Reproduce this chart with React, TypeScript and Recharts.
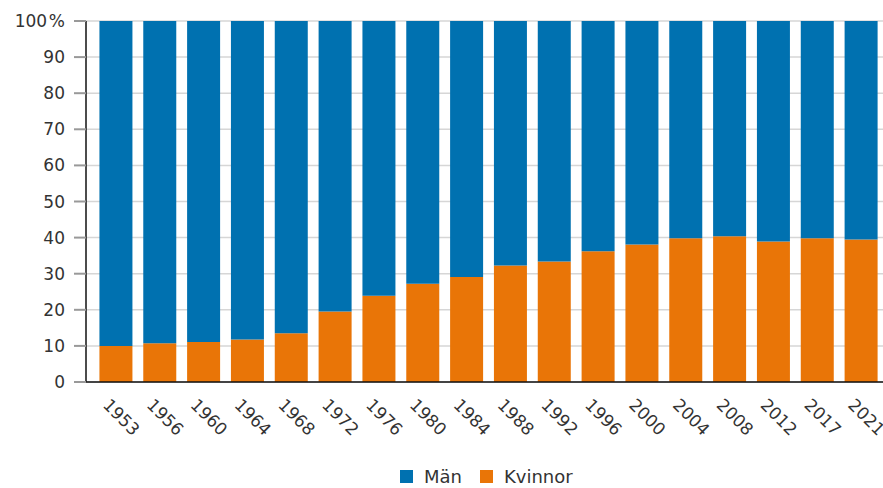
import { Bar, BarChart, CartesianGrid, Legend, XAxis, YAxis } from "recharts";

const years = [
  "1953", "1956", "1960", "1964", "1968", "1972", "1976", "1980", "1984",
  "1988", "1992", "1996", "2000", "2004", "2008", "2012", "2017", "2021",
];
const kvinnor = [
  10.0, 10.7, 11.1, 11.8, 13.5, 19.5, 23.9, 27.2, 29.1,
  32.3, 33.4, 36.2, 38.1, 39.8, 40.4, 38.9, 39.8, 39.5,
];
const man = [
  90.0, 89.3, 88.9, 88.2, 86.5, 80.5, 76.1, 72.8, 70.9,
  67.7, 66.6, 63.8, 61.9, 60.2, 59.6, 61.1, 60.2, 60.5,
];
const yTicks = [0, 10, 20, 30, 40, 50, 60, 70, 80, 90, 100];

const BLUE = "#0071b0";
const ORANGE = "#e97507";
const FONT = "'DejaVu Sans', Verdana, sans-serif";

const data = years.map((year, i) => ({ year, man: man[i], kvinnor: kvinnor[i] }));

function YearTick({ x, y, payload }: any) {
  const ax = x - 14;
  const ay = y + 24;
  return (
    <text
      x={ax}
      y={ay}
      transform={`rotate(45 ${ax} ${ay})`}
      textAnchor="start"
      fontSize={17}
      fontFamily={FONT}
      fill="#333"
    >
      {payload.value}
    </text>
  );
}

function PercentTick({ x, y, payload }: any) {
  return (
    <text
      x={x}
      y={y}
      dy="0.355em"
      textAnchor="end"
      fontSize={17}
      fontFamily={FONT}
      fill="#333"
    >
      {payload.value === 100 ? "100\u200A%" : payload.value}
    </text>
  );
}

function LegendBox() {
  const items = [
    { label: "Män", color: BLUE },
    { label: "Kvinnor", color: ORANGE },
  ];
  return (
    <div
      style={{
        height: 24,
        display: "flex",
        alignItems: "center",
        paddingLeft: 400,
        fontFamily: FONT,
        fontSize: 18,
        color: "#333",
      }}
    >
      {items.map((it) => (
        <span key={it.label} style={{ display: "flex", alignItems: "center", marginRight: 18 }}>
          <span style={{ width: 13, height: 13, background: it.color, marginRight: 11 }} />
          {it.label}
        </span>
      ))}
    </div>
  );
}

export default function App() {
  return (
    <div style={{ position: "absolute", left: 0, top: 0, width: 883, height: 488, background: "#fff" }}>
      <BarChart
        width={883}
        height={488}
        data={data}
        margin={{ top: 21, right: 0, bottom: 0, left: 0 }}
        barCategoryGap="12.4%"
      >
        <CartesianGrid vertical={false} stroke="#d6d6d6" strokeWidth={1.5} />
        <XAxis
          dataKey="year"
          height={82}
          interval={0}
          padding={{ left: 8, right: 0 }}
          tickSize={0}
          tickMargin={0}
          tickLine={false}
          axisLine={{ stroke: "#111", strokeWidth: 1.5 }}
          tick={<YearTick />}
        />
        <YAxis
          width={86}
          domain={[0, 100]}
          ticks={yTicks}
          interval={0}
          tickSize={12}
          tickMargin={9}
          tickLine={{ stroke: "#999", strokeWidth: 2 }}
          axisLine={{ stroke: "#111", strokeWidth: 1.5 }}
          tick={<PercentTick />}
        />
        <Legend verticalAlign="bottom" content={<LegendBox />} />
        <Bar dataKey="kvinnor" name="Kvinnor" stackId="a" fill={ORANGE} isAnimationActive={false} />
        <Bar dataKey="man" name="Män" stackId="a" fill={BLUE} isAnimationActive={false} />
      </BarChart>
    </div>
  );
}
